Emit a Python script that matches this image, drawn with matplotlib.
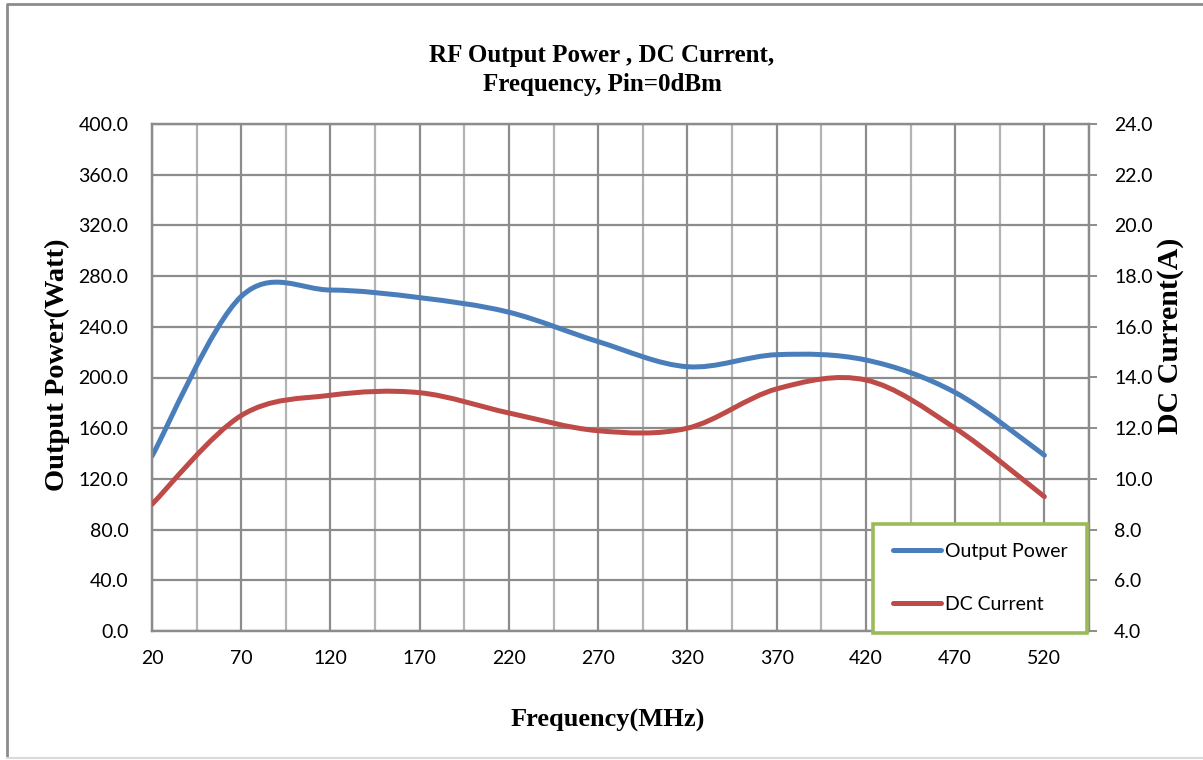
import numpy as np
import matplotlib
matplotlib.use("Agg")
import matplotlib.pyplot as plt
from matplotlib.path import Path
from matplotlib.patches import PathPatch
from matplotlib.lines import Line2D
from matplotlib.ticker import FixedLocator, FormatStrFormatter

# data (points at the labelled frequencies)
freq = [20, 70, 120, 170, 220, 270, 320, 370, 420, 470, 520]
power = [138, 264, 269, 263, 251.5, 228.3, 208.5, 218, 213.8, 188.2, 138.7]
current = [9.0, 12.5, 13.3, 13.4, 12.6, 11.9, 12.0, 13.55, 13.9, 12.0, 9.3]

blue = "#4a7ebb"
red = "#be4b48"
grid_dark = "#8c8c8c"
grid_light = "#b4b4b4"


def smooth_path(x, y):
    # excel style "smoothed line": catmull-rom pieces drawn as cubic beziers
    pts = np.column_stack([x, y]).astype(float)
    pad = np.vstack([pts[0], pts, pts[-1]])
    verts = [pts[0]]
    codes = [Path.MOVETO]
    for i in range(len(pts) - 1):
        p0, p1, p2, p3 = pad[i], pad[i + 1], pad[i + 2], pad[i + 3]
        verts += [p1 + (p2 - p0) / 6, p2 - (p3 - p1) / 6, p2]
        codes += [Path.CURVE4] * 3
    return Path(verts, codes)


plt.rcParams["font.family"] = ["Lato", "DejaVu Sans"]
serif = ["Liberation Serif", "DejaVu Serif"]

fig = plt.figure(figsize=(12.03, 7.60), dpi=100)
ax = fig.add_axes([152 / 1203, 129 / 760, 937 / 1203, 507 / 760])
ax2 = ax.twinx()

ax.set_xlim(20, 545)
ax.set_ylim(0, 400)
ax2.set_ylim(4, 24)

ax.xaxis.set_major_locator(FixedLocator(freq))
ax.xaxis.set_minor_locator(FixedLocator(np.arange(45, 546, 50)))
ax.yaxis.set_major_locator(FixedLocator(np.arange(0, 401, 40)))
ax2.yaxis.set_major_locator(FixedLocator(np.arange(4, 24.1, 2)))
ax.yaxis.set_major_formatter(FormatStrFormatter("%.1f"))
ax2.yaxis.set_major_formatter(FormatStrFormatter("%.1f"))

ax.grid(True, which="major", axis="both", color=grid_dark, lw=1.6)
ax.grid(True, which="minor", axis="x", color=grid_light, lw=1.6)
ax.set_axisbelow(True)

for a in (ax, ax2):
    for s in a.spines.values():
        s.set_color(grid_dark)
        s.set_linewidth(1.6)

ax.tick_params(axis="x", which="both", length=0, labelsize=14, pad=14)
ax.tick_params(axis="y", length=0, labelsize=14, pad=17)
ax2.tick_params(axis="y", length=6, width=1.4, color=grid_dark, labelsize=14, pad=12)

ax.add_patch(PathPatch(smooth_path(freq, power), fill=False, edgecolor=blue,
                       lw=3.6, capstyle="round", joinstyle="round", zorder=3))
ax2.add_patch(PathPatch(smooth_path(freq, current), fill=False, edgecolor=red,
                        lw=3.6, capstyle="round", joinstyle="round", zorder=3))

handles = [Line2D([], [], color=blue, lw=3.6, solid_capstyle="round"),
           Line2D([], [], color=red, lw=3.6, solid_capstyle="round")]
leg = ax2.legend(handles, ["Output Power", "DC Current"], loc="lower right",
                 bbox_to_anchor=(0.998, -0.003), fontsize=14, frameon=True,
                 fancybox=False, framealpha=1, edgecolor="#9bbb59",
                 borderpad=1.0, labelspacing=1.85, handlelength=2.5,
                 handletextpad=0.2, borderaxespad=0)
leg.get_frame().set_linewidth(2.6)
leg.set_zorder(10)

# titles
fig.text(602 / 1203, 1 - 70 / 760, "RF Output Power , DC Current,\nFrequency, Pin=0dBm",
         ha="center", va="center", fontsize=18, fontweight="bold",
         family=serif, linespacing=1.3)
fig.text(608 / 1203, 1 - 720 / 760, "Frequency(MHz)", ha="center", va="center",
         fontsize=19, fontweight="bold", family=serif)
fig.text(57 / 1203, 1 - 365 / 760, "Output Power(Watt)", ha="center", va="center",
         rotation=90, fontsize=20.5, fontweight="bold", family=serif)
fig.text(1170 / 1203, 1 - 336 / 760, "DC Current(A)", ha="center", va="center",
         rotation=90, fontsize=21.5, fontweight="bold", family=serif)

# chart area border
fig.add_artist(Line2D([7 / 1203, 7 / 1203, 1.0], [1 - 757 / 760, 1 - 4 / 760, 1 - 4 / 760],
                      transform=fig.transFigure, color="#8c8c8c", lw=2))
fig.add_artist(Line2D([7 / 1203, 1.0], [1 - 758 / 760, 1 - 758 / 760],
                      transform=fig.transFigure, color="#d9d9d9", lw=1.5))

fig.savefig("out.png", dpi=100)
